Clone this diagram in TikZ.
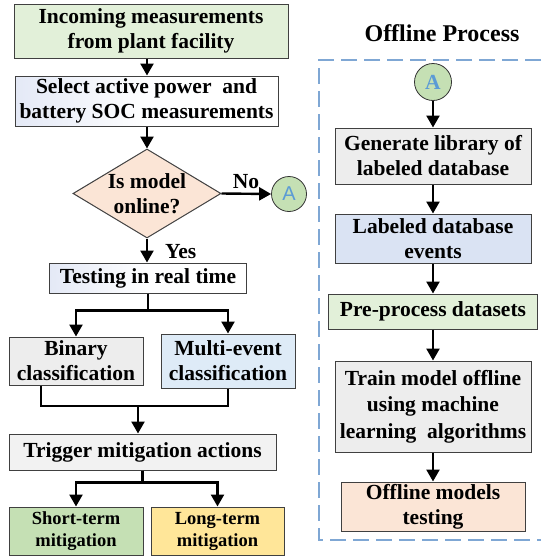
\documentclass[tikz,border=0pt]{standalone}
\usepackage{fontspec}
\setmainfont{Liberation Serif}
\newfontfamily\sansA{Liberation Sans}
\usetikzlibrary{shapes.geometric,arrows.meta}
\definecolor{cGreen}{HTML}{E2F0D9}
\definecolor{cPeach}{HTML}{FBE5D6}
\definecolor{cCirc}{HTML}{C5E0B4}
\definecolor{cAblue}{HTML}{5B9BD5}
\definecolor{cGray}{HTML}{EDEDED}
\definecolor{cLGray}{HTML}{F2F2F2}
\definecolor{cBlue}{HTML}{DEEBF7}
\definecolor{cLav}{HTML}{DAE3F3}
\definecolor{cShort}{HTML}{C5E0B4}
\definecolor{cLong}{HTML}{FFE699}
\definecolor{cGrad}{HTML}{E4E9F6}
\definecolor{cDash}{HTML}{7FA7D4}
\tikzset{
  box/.style={draw=black!75, line width=1pt, inner sep=0pt, align=center,
    font=\fontsize{21.5}{25}\selectfont\bfseries},
  smallbox/.style={box, font=\fontsize{18.5}{22}\selectfont\bfseries},
  gradbox/.style={box, left color=cGrad, right color=white, middle color=white!97!cGrad},
  txt/.style={inner sep=0pt, align=center, font=\fontsize{21.5}{25}\selectfont\bfseries},
  arr/.style={line width=2.4pt, -{Triangle[length=12pt,width=13pt]}},
  ln/.style={line width=2.4pt},
  conn/.style={circle, draw=black!80, line width=0.8pt, fill=cCirc, inner sep=0pt},
}
\begin{document}
\begin{tikzpicture}[x=1pt,y=-1pt]
\useasboundingbox (0,0) rectangle (541,557);
% left column
\node[box, fill=cGreen, minimum width=274pt, minimum height=54pt] (b1) at (151,31) {Incoming measurements\\from plant facility};
\node[gradbox, minimum width=263pt, minimum height=50pt] (b2) at (146.5,101) {Select active power~ and\\battery SOC measurements};
\node[diamond, draw=black!75, line width=1pt, fill=cPeach, inner sep=0pt, aspect=1.66, minimum width=148pt, minimum height=89pt] (dia) at (147,193.5) {};
\node[txt] (diatxt) at (dia) {Is model\\online?};
\node[conn, minimum size=35pt, font=\sansA\fontsize{20}{20}\selectfont, text=cAblue] (A1) at (289,194) {A};
\node[gradbox, minimum width=197pt, minimum height=30pt] (test) at (148,278) {Testing in real time};
\node[box, fill=cGray, minimum width=134pt, minimum height=48pt] (bin) at (76,361) {Binary\\classification};
\node[box, fill=cBlue, minimum width=134pt, minimum height=54pt] (multi) at (228,361) {Multi-event\\classification};
\node[box, fill=cLGray, minimum width=267pt, minimum height=36pt] (trig) at (142.5,452) {Trigger mitigation actions};
\node[smallbox, fill=cShort, minimum width=134pt, minimum height=48pt] (short) at (76,531) {Short-term\\mitigation};
\node[smallbox, fill=cLong, minimum width=133pt, minimum height=48pt] (long) at (217.5,531) {Long-term\\mitigation};
\node[txt, anchor=south] (no) at (246,189) {No};
\node[txt, anchor=west] (yes) at (165,252) {Yes};
\coordinate (mer) at (138,406);
% left connectors
\draw[arr] (b1.south -| dia) -- (b2.north -| dia);
\draw[arr] (b2.south -| dia) -- (dia.north);
\draw[arr] (dia.east) -- (A1.west);
\draw[arr] (dia.south) -- (test.north -| dia);
\draw[arr] (test.south) -- ++(0,17) -| (bin.north);
\draw[arr] (test.south) -- ++(0,17) -| (multi.north);
\draw[ln] ([xshift=-35pt]bin.south) |- (mer) -| (multi.south);
\draw[arr] (mer) -- (trig.north -| mer);
\draw[arr] (trig.south) -- ++(0,12) -| (short.north);
\draw[arr] (trig.south) -- ++(0,12) -| (long.north);
% right column
\node[inner sep=0pt, font=\fontsize{24}{28}\selectfont\bfseries] (title) at (442,33) {Offline Process};
\draw[cDash, line width=1.3pt, dash pattern=on 16pt off 7pt] (541,60) -- (319,60) -- (319,540) -- (541,540);
\node[conn, minimum size=37pt, font=\fontsize{21.5}{21.5}\selectfont\bfseries, text=cAblue] (A2) at (433,82) {A};
\node[box, fill=cGray, minimum width=196pt, minimum height=56pt] (gen) at (433,156) {Generate library of\\labeled database};
\node[box, fill=cLav, minimum width=196pt, minimum height=49pt] (lab) at (433,238.5) {Labeled database\\events};
\node[box, fill=cGreen, minimum width=209pt, minimum height=35pt] (pre) at (433,311.5) {Pre-process datasets};
\node[box, fill=cGray, minimum width=196pt, minimum height=91pt, font=\fontsize{21.5}{26.5}\selectfont\bfseries] (train) at (433,406.5) {Train model offline\\using machine\\learning~ algorithms};
\node[box, fill=cPeach, minimum width=184pt, minimum height=49pt] (off) at (433,506.5) {Offline models\\testing};
\draw[arr] (A2.south) -- (gen.north);
\draw[arr] (gen.south) -- (lab.north);
\draw[arr] (lab.south) -- (pre.north);
\draw[arr] (pre.south) -- (train.north);
\draw[arr] (train.south) -- (off.north);
\end{tikzpicture}
\end{document}
